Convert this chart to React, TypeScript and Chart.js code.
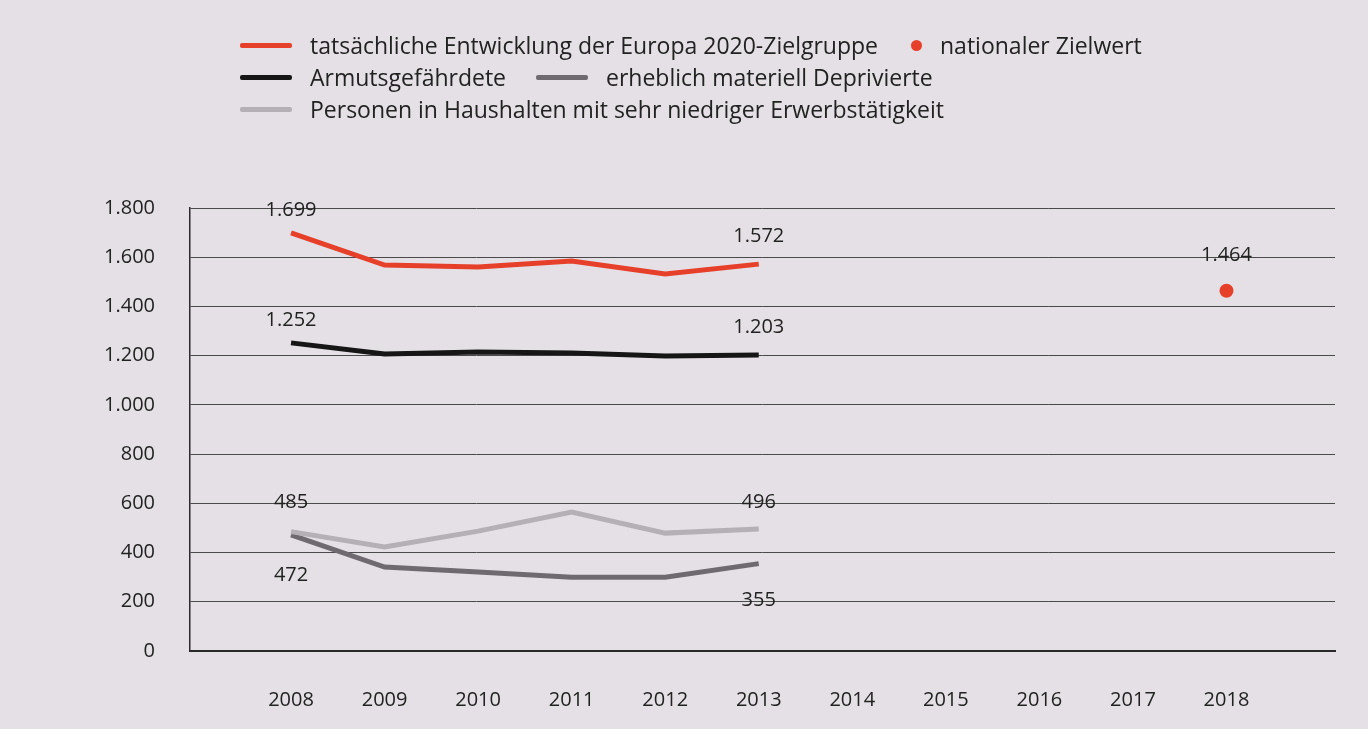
import React, { useEffect, useRef } from "react";
import { Chart, registerables } from "chart.js";
Chart.register(...registerables);

const AXIS_YEARS = [2008, 2009, 2010, 2011, 2012, 2013, 2014, 2015, 2016, 2017, 2018];
const SERIES_YEARS = [2008, 2009, 2010, 2011, 2012, 2013];
const EUROPA_2020 = [1699, 1568, 1560, 1585, 1532, 1572];
const ARMUTSGEFAEHRDETE = [1252, 1207, 1215, 1211, 1199, 1203];
const DEPRIVIERTE = [472, 341, 321, 300, 300, 355];
const NIEDRIGE_ERWERB = [485, 423, 487, 565, 479, 496];
const ZIEL_YEAR = [2018];
const ZIEL_VALUE = [1464];
const Y_TICKS = [0, 200, 400, 600, 800, 1000, 1200, 1400, 1600, 1800];

const FONT = "'Open Sans', 'Noto Sans', sans-serif";
const RED = "#e6402b";
const BLACK = "#161616";
const DARK_GRAY = "#6f6a70";
const LIGHT_GRAY = "#b4b0b5";
const BG = "#e5e0e5";

const fmt = (v: number) => {
  const s = Math.round(v).toString();
  return s.replace(/\B(?=(\d{3})+(?!\d))/g, ".");
};

const pts = (xs: number[], ys: number[]) => xs.map((x, i) => ({ x, y: ys[i] }));

const labelPlugin = {
  id: "endLabels",
  afterDatasetsDraw(chart: any) {
    const ctx = chart.ctx;
    ctx.save();
    ctx.font = `20px ${FONT}`;
    ctx.fillStyle = "#222";
    ctx.textAlign = "center";
    ctx.textBaseline = "middle";
    chart.data.datasets.forEach((ds: any, di: number) => {
      const meta = chart.getDatasetMeta(di);
      const spec = ds.endLabels;
      if (!spec) return;
      spec.forEach((s: any) => {
        const idx = s.index < 0 ? ds.data.length + s.index : s.index;
        const el = meta.data[idx];
        const val = ds.data[idx].y;
        ctx.fillText(fmt(val), el.x, el.y + s.dy);
      });
    });
    ctx.restore();
  },
};

export default function App() {
  const ref = useRef<HTMLCanvasElement>(null);
  useEffect(() => {
    document.body.style.margin = "0";
    document.body.style.background = BG;
    const chart = new Chart(ref.current!, {
      type: "line",
      data: {
        datasets: [
          {
            label: "Personen in Haushalten mit sehr niedriger Erwerbstätigkeit",
            data: pts(SERIES_YEARS, NIEDRIGE_ERWERB),
            borderColor: LIGHT_GRAY,
            borderWidth: 5,
            pointRadius: 0,
            endLabels: [{ index: 0, dy: -29 }, { index: -1, dy: -27 }],
          } as any,
          {
            label: "erheblich materiell Deprivierte",
            data: pts(SERIES_YEARS, DEPRIVIERTE),
            borderColor: DARK_GRAY,
            borderWidth: 5,
            pointRadius: 0,
            endLabels: [{ index: 0, dy: 40 }, { index: -1, dy: 37 }],
          } as any,
          {
            label: "Armutsgefährdete",
            data: pts(SERIES_YEARS, ARMUTSGEFAEHRDETE),
            borderColor: BLACK,
            borderWidth: 5,
            pointRadius: 0,
            endLabels: [{ index: 0, dy: -23 }, { index: -1, dy: -28 }],
          } as any,
          {
            label: "tatsächliche Entwicklung der Europa 2020-Zielgruppe",
            data: pts(SERIES_YEARS, EUROPA_2020),
            borderColor: RED,
            borderWidth: 5,
            pointRadius: 0,
            endLabels: [{ index: 0, dy: -23 }, { index: -1, dy: -28 }],
          } as any,
          {
            label: "nationaler Zielwert",
            data: pts(ZIEL_YEAR, ZIEL_VALUE),
            showLine: false,
            pointRadius: 7,
            pointBackgroundColor: RED,
            pointBorderWidth: 0,
            endLabels: [{ index: 0, dy: -35 }],
          } as any,
        ],
      },
      options: {
        animation: false,
        responsive: false,
        layout: { padding: { left: 0, right: 33, top: 208, bottom: 0 } },
        plugins: { legend: { display: false }, tooltip: { enabled: false } },
        scales: {
          x: {
            type: "linear",
            min: 2006.92,
            max: 2019.16,
            afterBuildTicks: (s: any) => {
              s.ticks = AXIS_YEARS.map((v) => ({ value: v }));
            },
            afterFit: (s: any) => {
              s.height = 78;
            },
            grid: { display: false, drawTicks: false },
            border: { display: true, color: "#2a2a2a", width: 2 },
            ticks: {
              padding: 37,
              color: "#222",
              font: { family: FONT, size: 20 },
              callback: (v: any) => String(v),
              autoSkip: false,
              maxRotation: 0,
            },
          },
          y: {
            min: 0,
            max: 1800,
            afterBuildTicks: (s: any) => {
              s.ticks = Y_TICKS.map((v) => ({ value: v }));
            },
            afterFit: (s: any) => {
              s.width = 190;
            },
            grid: { color: "#4a4a4a", lineWidth: 1, drawTicks: false },
            border: { display: true, color: "#2a2a2a", width: 1.5 },
            ticks: {
              padding: 35,
              color: "#222",
              font: { family: FONT, size: 20 },
              callback: (v: any) => fmt(Number(v)),
            },
          },
        },
      },
      plugins: [labelPlugin],
    });
    return () => chart.destroy();
  }, []);

  const swatch = (color: string) => (
    <span
      style={{
        display: "inline-block",
        width: 52,
        height: 5,
        background: color,
        borderRadius: 2,
        verticalAlign: "middle",
        marginRight: 18,
      }}
    />
  );
  const row: React.CSSProperties = {
    position: "absolute",
    left: 240,
    display: "flex",
    alignItems: "center",
    fontFamily: FONT,
    fontSize: 23,
    color: "#222",
    whiteSpace: "nowrap",
    lineHeight: "28px",
  };

  return (
    <div style={{ position: "relative", width: 1368, height: 729, background: BG, overflow: "hidden" }}>
      <canvas ref={ref} width={1368} height={729} style={{ position: "absolute", left: 0, top: 0 }} />
      <div style={{ ...row, top: 31 }}>
        {swatch(RED)}
        <span>tatsächliche Entwicklung der Europa 2020-Zielgruppe</span>
        <span
          style={{
            display: "inline-block",
            width: 11,
            height: 11,
            borderRadius: "50%",
            background: RED,
            marginLeft: 33,
            marginRight: 18,
          }}
        />
        <span>nationaler Zielwert</span>
      </div>
      <div style={{ ...row, top: 63 }}>
        {swatch(BLACK)}
        <span style={{ marginRight: 30 }}>Armutsgefährdete</span>
        {swatch(DARK_GRAY)}
        <span>erheblich materiell Deprivierte</span>
      </div>
      <div style={{ ...row, top: 95 }}>
        {swatch(LIGHT_GRAY)}
        <span>Personen in Haushalten mit sehr niedriger Erwerbstätigkeit</span>
      </div>
    </div>
  );
}
